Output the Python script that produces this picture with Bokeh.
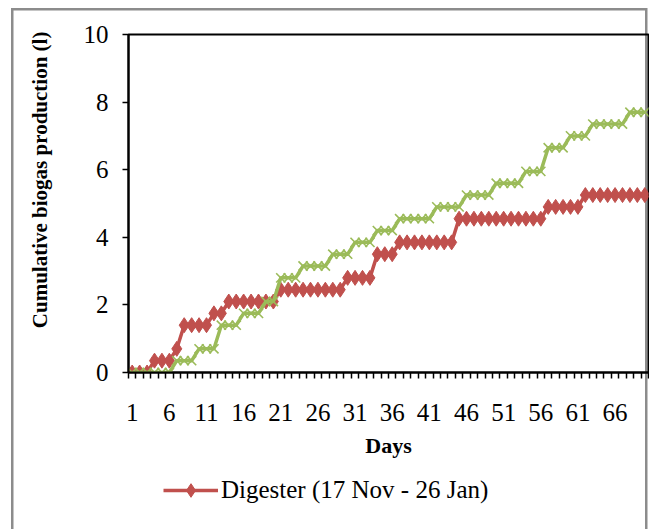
from bokeh.plotting import figure
from bokeh.layouts import column
from bokeh.models import (FixedTicker, Legend, LegendItem,
                          ColumnDataSource, Range1d)
from bokeh.embed import file_html
from bokeh.resources import INLINE

# ---------------- data ----------------
days = list(range(1, 71))

digester = [0, 0, 0, 0.35, 0.35, 0.35, 0.7, 1.4, 1.4, 1.4,
            1.4, 1.75, 1.75, 2.1, 2.1, 2.1, 2.1, 2.1, 2.1, 2.1,
            2.45, 2.45, 2.45, 2.45, 2.45, 2.45, 2.45, 2.45, 2.45, 2.8,
            2.8, 2.8, 2.8, 3.5, 3.5, 3.5, 3.85, 3.85, 3.85, 3.85,
            3.85, 3.85, 3.85, 3.85, 4.55, 4.55, 4.55, 4.55, 4.55, 4.55,
            4.55, 4.55, 4.55, 4.55, 4.55, 4.55, 4.9, 4.9, 4.9, 4.9,
            4.9, 5.25, 5.25, 5.25, 5.25, 5.25, 5.25, 5.25, 5.25, 5.25]

second = [0, 0, 0, 0, 0, 0, 0.35, 0.35, 0.35, 0.7,
          0.7, 0.7, 1.4, 1.4, 1.4, 1.75, 1.75, 1.75, 2.1, 2.1,
          2.8, 2.8, 2.8, 3.15, 3.15, 3.15, 3.15, 3.5, 3.5, 3.5,
          3.85, 3.85, 3.85, 4.2, 4.2, 4.2, 4.55, 4.55, 4.55, 4.55,
          4.55, 4.9, 4.9, 4.9, 4.9, 5.25, 5.25, 5.25, 5.25, 5.6,
          5.6, 5.6, 5.6, 5.95, 5.95, 5.95, 6.65, 6.65, 6.65, 7.0,
          7.0, 7.0, 7.35, 7.35, 7.35, 7.35, 7.35, 7.7, 7.7, 7.7]

x_tick_days = [1, 6, 11, 16, 21, 26, 31, 36, 41, 46, 51, 56, 61, 66]
x_tick_labels = ["1", "6", "11", "16", "21", "26", "31", "36", "41",
                 "46", "51", "56", "61", "66"]
y_ticks = [0, 2, 4, 6, 8, 10]

series1_name = "Digester (17 Nov - 26 Jan)"
red = "#C0504D"
green = "#9BBB59"
FONT = "Liberation Serif"
BORDER = "#8c8c8c"

src = ColumnDataSource(dict(day=days, digester=digester, second=second))

p = figure(width=649, height=460,
           output_backend="svg", toolbar_location=None,
           x_range=Range1d(0.5, len(days) + 0.5), y_range=Range1d(0, 10),
           min_border_left=128, min_border_right=1, min_border_top=34,
           min_border_bottom=88,
           background_fill_alpha=0, border_fill_alpha=0)
p.grid.visible = False
p.outline_line_color = "black"
p.outline_line_width = 2

# series
l1 = p.line("day", "digester", source=src, line_color=red, line_width=3.5)
s1 = p.scatter("day", "digester", source=src, marker="diamond", size=15,
               fill_color=red, line_color=red)
l2 = p.line("day", "second", source=src, line_color=green, line_width=3.5)
s2 = p.scatter("day", "second", source=src, marker="x", size=13,
               line_color=green, line_width=1.6)

# x axis
xa = p.xaxis[0]
xa.ticker = FixedTicker(ticks=x_tick_days,
                        minor_ticks=[d - 0.5 for d in days] + [len(days) + 0.5])
xa.major_label_overrides = {d: t for d, t in zip(x_tick_days, x_tick_labels)}
xa.major_tick_out = 0
xa.major_tick_in = 0
xa.minor_tick_out = 6
xa.minor_tick_in = 0
xa.minor_tick_line_color = "black"
xa.minor_tick_line_width = 1.5
xa.axis_line_width = 2
xa.axis_line_color = "black"
xa.major_label_standoff = 25
xa.major_label_text_font = FONT
xa.major_label_text_font_size = "25px"
xa.major_label_text_color = "black"
xa.axis_label = "Days"
xa.axis_label_text_font = FONT
xa.axis_label_text_font_style = "bold"
xa.axis_label_text_font_size = "22px"
xa.axis_label_text_color = "black"
xa.axis_label_standoff = 9

# y axis
ya = p.yaxis[0]
ya.ticker = FixedTicker(ticks=y_ticks, minor_ticks=[])
ya.major_tick_out = 6
ya.major_tick_in = 0
ya.major_tick_line_width = 1.5
ya.minor_tick_line_color = None
ya.axis_line_width = 2
ya.axis_line_color = "black"
ya.major_label_standoff = 14
ya.major_label_text_font = FONT
ya.major_label_text_font_size = "25px"
ya.major_label_text_color = "black"
ya.axis_label = "\u00a0" * 9 + "Cumulative biogas production (l)"
ya.axis_label_text_font = FONT
ya.axis_label_text_font_style = "bold"
ya.axis_label_text_font_size = "21px"
ya.axis_label_text_color = "black"
ya.axis_label_standoff = 29

# legend strip below the chart (its glyphs lie outside its visible ranges)
leg = figure(width=649, height=69, output_backend="svg", toolbar_location=None,
             x_range=Range1d(1000, 1001), y_range=Range1d(1000, 1001),
             x_axis_location=None, y_axis_location=None,
             min_border=0, background_fill_alpha=0, border_fill_alpha=0)
leg.grid.visible = False
leg.outline_line_color = None
ll = leg.line("day", "digester", source=src, line_color=red, line_width=3.5)
ls = leg.scatter("day", "digester", source=src, marker="diamond", size=15,
                 fill_color=red, line_color=red)
legend = Legend(items=[LegendItem(label=series1_name, renderers=[ll, ls])],
                location=(35, 22), orientation="horizontal",
                glyph_width=55, glyph_height=34, label_standoff=3,
                padding=0, margin=0, border_line_color=None,
                background_fill_alpha=0,
                label_text_font=FONT, label_text_font_size="25px",
                label_text_color="black")
leg.add_layout(legend, "center")

layout = column(p, leg, spacing=0)
g = f"linear-gradient({BORDER},{BORDER})"
layout.styles = {
    "background-color": "white",
    "background-image": f"{g}, {g}, {g}",
    "background-size": "2.5px 521px, 636px 2.5px, 2.5px 521px",
    "background-position": "11px 8px, 11px 8px, 644.5px 8px",
    "background-repeat": "no-repeat",
}

open("out.html", "w").write(file_html(layout, INLINE))
